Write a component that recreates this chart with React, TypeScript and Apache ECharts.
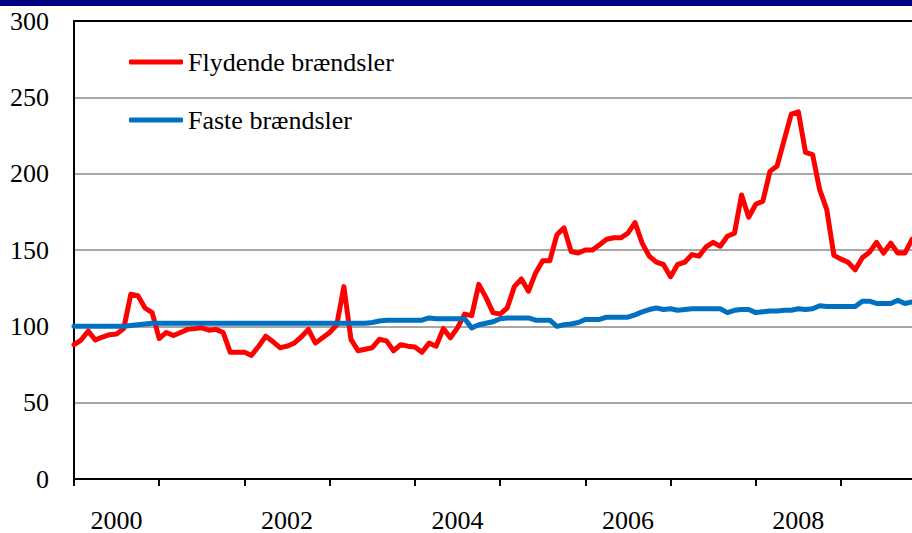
import React, { useEffect, useRef } from "react";
import * as echarts from "echarts";

// Monthly observations, January 2000 onwards
const startYear = 2000;
const flydende: number[] = [
  88, 91, 97, 91, 93, 94.5, 95, 98.5, 121, 120, 112, 109,
  92, 96, 94, 96, 98, 98.5, 99, 97.5, 98, 96, 83, 83,
  83, 81, 87, 93.5, 90, 86, 87, 89, 93, 98, 89, 92.5,
  96, 101, 126, 91.5, 84, 85, 86, 91.5, 90.5, 84, 88, 87,
  86.5, 83, 89, 87, 98.5, 92.5, 99, 108, 107, 127.5, 119, 109,
  108, 112, 126, 131, 123, 135, 143, 143, 160, 164.5, 149, 148,
  150, 150, 153.5, 157, 158, 158, 161, 168, 154.5, 146, 142, 140.5,
  132.5, 140.5, 142, 147, 146, 152, 155, 152.5, 159, 161, 186, 171.5,
  180, 182, 201.5, 205, 222, 239, 240.5, 214, 212.5, 189.5, 176.5, 146.5,
  144, 142, 137, 145, 148.5, 155, 148, 154.5, 148, 148, 157,
];
const faste: number[] = [
  100, 100, 100, 100, 100, 100, 100, 100, 100.5, 101, 101.5, 102,
  102, 102, 102, 102, 102, 102, 102, 102, 102, 102, 102, 102,
  102, 102, 102, 102, 102, 102, 102, 102, 102, 102, 102, 102,
  102, 102, 102, 102, 102, 102, 102.5, 103.5, 104, 104, 104, 104,
  104, 104, 105.5, 105, 105, 105, 105, 105, 99, 101, 102, 103,
  105, 105.5, 105.5, 105.5, 105.5, 104, 104, 104, 100, 101, 101.5, 102.5,
  104.5, 104.5, 104.5, 106, 106, 106, 106, 107.5, 109.5, 111, 112, 111,
  111.5, 110.5, 111, 111.5, 111.5, 111.5, 111.5, 111.5, 109, 110.5, 111, 111,
  109, 109.5, 110, 110, 110.5, 110.5, 111.5, 111, 111.5, 113.5, 113, 113,
  113, 113, 113, 116.5, 116.5, 115, 115, 115, 117, 115, 116,
];
const months: string[] = flydende.map(
  (_, i) => `${startYear + Math.floor(i / 12)}-${String((i % 12) + 1).padStart(2, "0")}`
);
const yTicks = { min: 0, max: 300, interval: 50 };
const seriesNames = ["Flydende brændsler", "Faste brændsler"];

const FONT = '"Liberation Serif", "Times New Roman", serif';

export default function App() {
  const ref = useRef<HTMLDivElement>(null);
  useEffect(() => {
    if (!ref.current) return;
    const chart = echarts.init(ref.current, undefined, { renderer: "svg" });
    chart.setOption({
      animation: false,
      backgroundColor: "#ffffff",
      graphic: [
        {
          type: "rect",
          left: 0,
          top: 0,
          shape: { width: 912, height: 6 },
          style: { fill: "#000080" },
          z: 100,
        },
      ],
      grid: { left: 74, right: 0, top: 21, bottom: 53, containLabel: false },
      legend: {
        orient: "vertical",
        left: 129,
        top: 49,
        icon: "roundRect",
        itemWidth: 54,
        itemHeight: 5,
        itemGap: 32,
        padding: 0,
        textStyle: { fontFamily: FONT, fontSize: 26, color: "#000", lineHeight: 26 },
        data: seriesNames,
      },
      xAxis: [
        {
          type: "category",
          data: months,
          boundaryGap: false,
          axisLine: { show: true, lineStyle: { color: "#000", width: 2 } },
          axisTick: {
            show: true,
            interval: (i: number) => i % 12 === 0,
            length: 7,
            lineStyle: { color: "#000", width: 2 },
          },
          axisLabel: {
            interval: (i: number) => i % 24 === 6,
            formatter: (v: string) => v.slice(0, 4),
            fontFamily: FONT,
            fontSize: 26,
            color: "#000",
            margin: 28,
          },
          splitLine: { show: false },
        },
        {
          type: "category",
          data: months,
          boundaryGap: false,
          position: "top",
          axisLine: { show: true, lineStyle: { color: "#000", width: 2 } },
          axisTick: { show: false },
          axisLabel: { show: false },
          splitLine: { show: false },
        },
      ],
      yAxis: {
        type: "value",
        min: yTicks.min,
        max: yTicks.max,
        interval: yTicks.interval,
        axisLine: { show: true, lineStyle: { color: "#000", width: 2 } },
        axisTick: { show: false },
        axisLabel: {
          fontFamily: FONT,
          fontSize: 26,
          color: "#000",
          margin: 25,
        },
        splitLine: { show: true, lineStyle: { color: "#8a8a8a", width: 1.5 } },
      },
      series: [
        {
          name: seriesNames[0],
          type: "line",
          data: flydende,
          symbol: "none",
          lineStyle: { color: "#ff0000", width: 5, join: "round", cap: "round" },
          itemStyle: { color: "#ff0000" },
        },
        {
          name: seriesNames[1],
          type: "line",
          data: faste,
          symbol: "none",
          lineStyle: { color: "#0070c0", width: 5, join: "round", cap: "round" },
          itemStyle: { color: "#0070c0" },
        },
      ],
    });
    return () => chart.dispose();
  }, []);
  return (
    <div
      ref={ref}
      style={{ position: "absolute", left: 0, top: 0, width: 912, height: 533 }}
    />
  );
}
